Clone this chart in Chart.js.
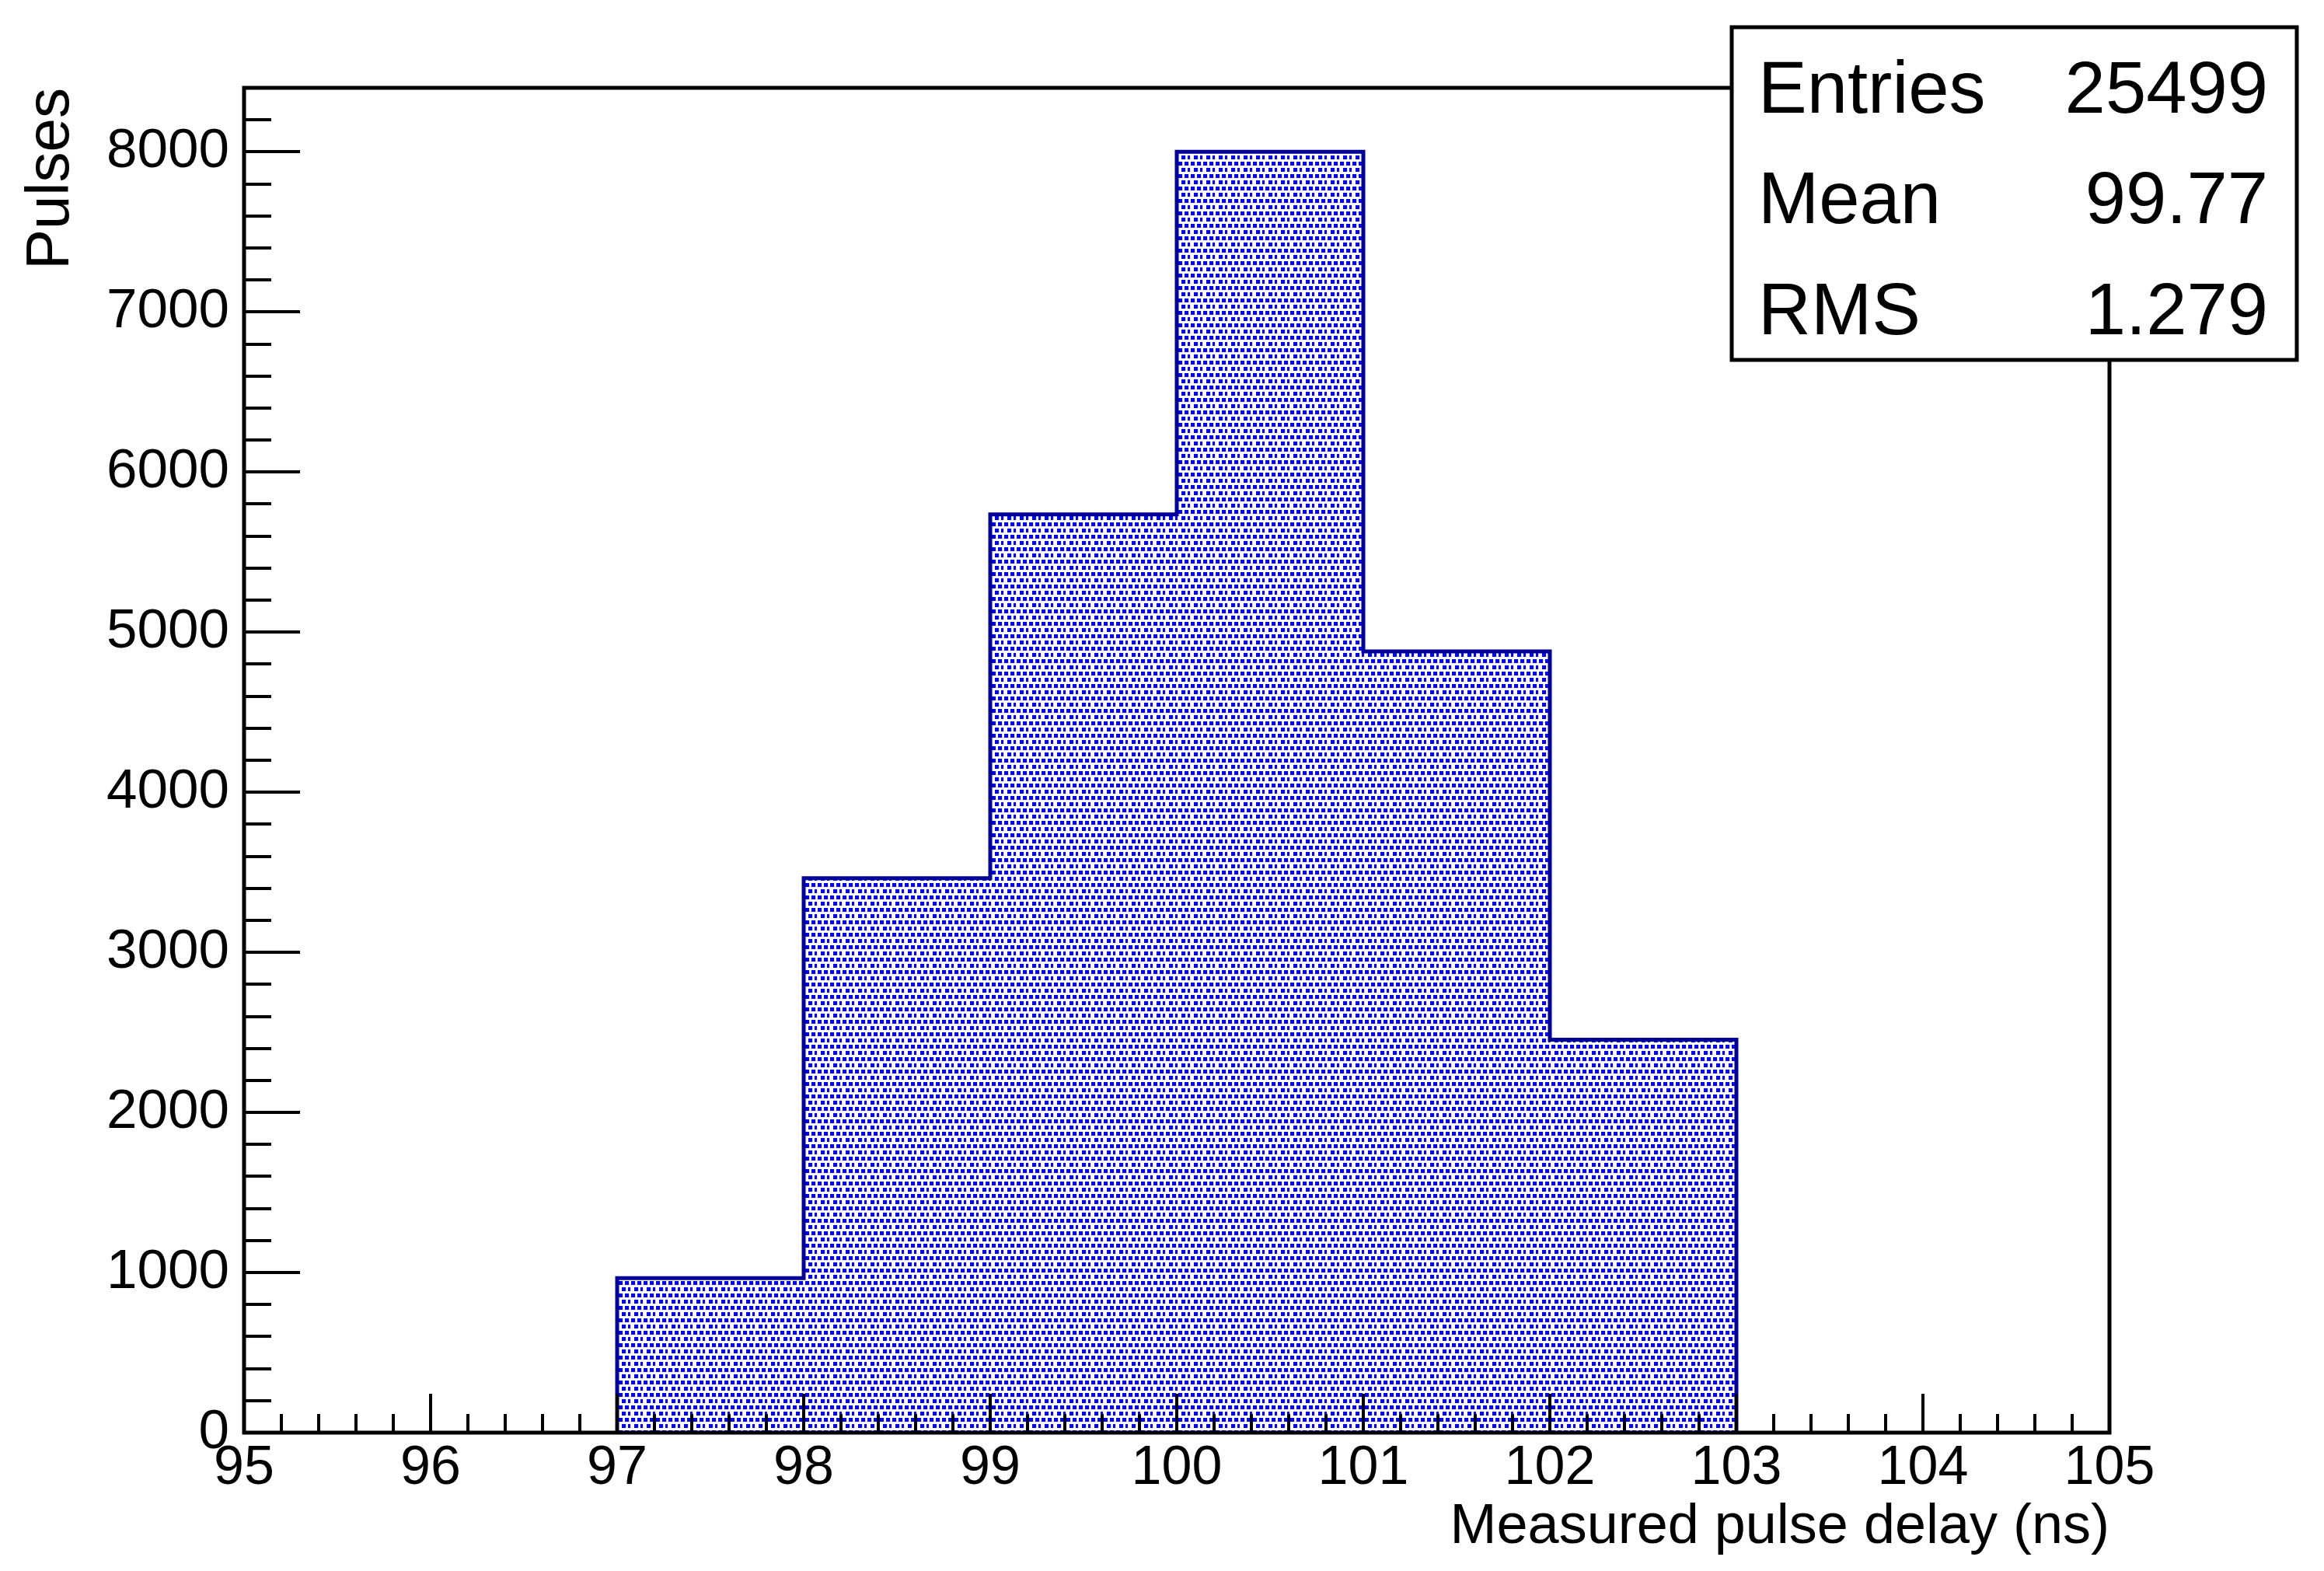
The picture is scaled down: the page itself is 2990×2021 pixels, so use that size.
<!DOCTYPE html>
<html>
<head>
<meta charset="utf-8">
<title>Measured pulse delay</title>
<script src="https://cdn.jsdelivr.net/npm/chart.js@4.4.1/dist/chart.umd.min.js"></script>
<style>
  html, body { margin: 0; padding: 0; background: #fff; }
  #wrap { width: 2990px; height: 2021px; }
</style>
</head>
<body>
<div id="wrap"><canvas id="pulseChart"></canvas></div>
<script>
// bin edges (ns) and pulses per 1 ns bin
var binEdges = [97, 98, 99, 100, 101, 102, 103];
var binCounts = [965, 3463, 5735, 8001, 4880, 2455];
var xTickLabels = [95, 96, 97, 98, 99, 100, 101, 102, 103, 104, 105];
var yTickLabels = [0, 1000, 2000, 3000, 4000, 5000, 6000, 7000, 8000];
var statNames = ['Entries', 'Mean', 'RMS'];
var statValues = ['25499', '99.77', '1.279'];

var FONT = "'Liberation Sans', Arial, Helvetica, sans-serif";

// ROOT-like dotted fill pattern
function makePattern() {
    var c = document.createElement('canvas');
    c.width = 16;
    c.height = 16;
    var g = c.getContext('2d');
    g.fillStyle = '#0000ff';
    g.fillRect(4, 0, 5, 5);
    g.fillRect(12, 0, 4, 5);
    g.fillRect(0, 0, 1, 5);
    g.fillRect(0, 8, 5, 5);
    g.fillRect(8, 8, 3, 5);
    return document.getElementById('pulseChart').getContext('2d').createPattern(c, 'repeat');
}

var barData = binCounts.map(function (c, i) {
    return { x: (binEdges[i] + binEdges[i + 1]) / 2, y: c };
});

// step outline of the histogram
var outline = [{ x: binEdges[0], y: 0 }];
binCounts.forEach(function (c, i) {
    outline.push({ x: binEdges[i], y: c });
    outline.push({ x: binEdges[i + 1], y: c });
});
outline.push({ x: binEdges[binEdges.length - 1], y: 0 });

// frame and inward ticks, drawn over the histogram
var rootAxes = {
    id: 'rootAxes',
    afterDatasetsDraw: function (chart) {
        var ctx = chart.ctx, a = chart.chartArea;
        var xs = chart.scales.x, ys = chart.scales.y;
        ctx.save();
        ctx.strokeStyle = '#000';
        ctx.lineWidth = 4;
        ctx.beginPath();
        for (var v = 0; v <= ys.max; v += 200) {
            var py = Math.round(ys.getPixelForValue(v));
            var len = v % 1000 === 0 ? 72 : 35;
            ctx.moveTo(a.left, py);
            ctx.lineTo(a.left + len, py);
        }
        for (var k = 0; k <= 50; k++) {
            var px = Math.round(xs.getPixelForValue(xs.min + k * 0.2));
            var len2 = k % 5 === 0 ? 50 : 24;
            ctx.moveTo(px, a.bottom);
            ctx.lineTo(px, a.bottom - len2);
        }
        ctx.stroke();
        ctx.lineWidth = 5;
        ctx.strokeRect(a.left, a.top, a.right - a.left, a.bottom - a.top);
        ctx.restore();
    }
};

// statistics box in the top right corner
var statsBox = {
    id: 'statsBox',
    afterDraw: function (chart) {
        var ctx = chart.ctx;
        var bx = 2228, by = 35, bw = 727, bh = 428;
        ctx.save();
        ctx.fillStyle = '#fff';
        ctx.fillRect(bx, by, bw, bh);
        ctx.strokeStyle = '#000';
        ctx.lineWidth = 5;
        ctx.strokeRect(bx, by, bw, bh);
        ctx.fillStyle = '#000';
        ctx.font = '94px ' + FONT;
        ctx.textBaseline = 'alphabetic';
        var baselines = [145, 287, 430];
        for (var i = 0; i < statNames.length; i++) {
            ctx.textAlign = 'left';
            ctx.fillText(statNames[i], 2262, baselines[i]);
            ctx.textAlign = 'right';
            ctx.fillText(statValues[i], 2918, baselines[i]);
        }
        ctx.restore();
    }
};

function plainLabel(value) {
    return String(value);
}

document.addEventListener('DOMContentLoaded', function () {
    var ctx = document.getElementById('pulseChart').getContext('2d');

    new Chart(ctx, {
        type: 'bar',
        data: {
            datasets: [{
                type: 'line',
                data: outline,
                borderColor: '#000099',
                borderWidth: 5,
                pointRadius: 0,
                tension: 0,
                fill: false,
                order: 0
            }, {
                type: 'bar',
                data: barData,
                backgroundColor: makePattern(),
                borderWidth: 0,
                barPercentage: 1,
                categoryPercentage: 1,
                order: 1
            }]
        },
        options: {
            responsive: true,
            maintainAspectRatio: false,
            devicePixelRatio: 1,
            animation: false,
            layout: { padding: { top: 113, right: 276, left: 0, bottom: 0 } },
            plugins: { legend: { display: false }, tooltip: { enabled: false } },
            scales: {
                x: {
                    type: 'linear',
                    min: 95,
                    max: 105,
                    offset: false,
                    grid: { display: false, drawTicks: false },
                    border: { display: false },
                    afterBuildTicks: function (s) {
                        s.ticks = xTickLabels.map(function (v) { return { value: v }; });
                    },
                    afterFit: function (s) { s.height = 178; },
                    ticks: {
                        color: '#000',
                        padding: 5,
                        maxRotation: 0,
                        autoSkip: false,
                        callback: plainLabel,
                        font: { family: FONT, size: 70 }
                    },
                    title: {
                        display: true,
                        text: 'Measured pulse delay (ns)',
                        align: 'end',
                        color: '#000',
                        padding: 0,
                        font: { family: FONT, size: 72, lineHeight: '112px' }
                    }
                },
                y: {
                    min: 0,
                    max: 8400,
                    grid: { display: false, drawTicks: false },
                    border: { display: false },
                    afterBuildTicks: function (s) {
                        s.ticks = yTickLabels.map(function (v) { return { value: v }; });
                    },
                    afterFit: function (s) { s.width = 314; },
                    ticks: {
                        color: '#000',
                        padding: 19,
                        callback: plainLabel,
                        font: { family: FONT, size: 71 }
                    },
                    title: {
                        display: true,
                        text: 'Pulses',
                        align: 'end',
                        color: '#000',
                        padding: 0,
                        font: { family: FONT, size: 78, lineHeight: '132px' }
                    }
                }
            }
        },
        plugins: [rootAxes, statsBox]
    });
});
</script>
</body>
</html>
